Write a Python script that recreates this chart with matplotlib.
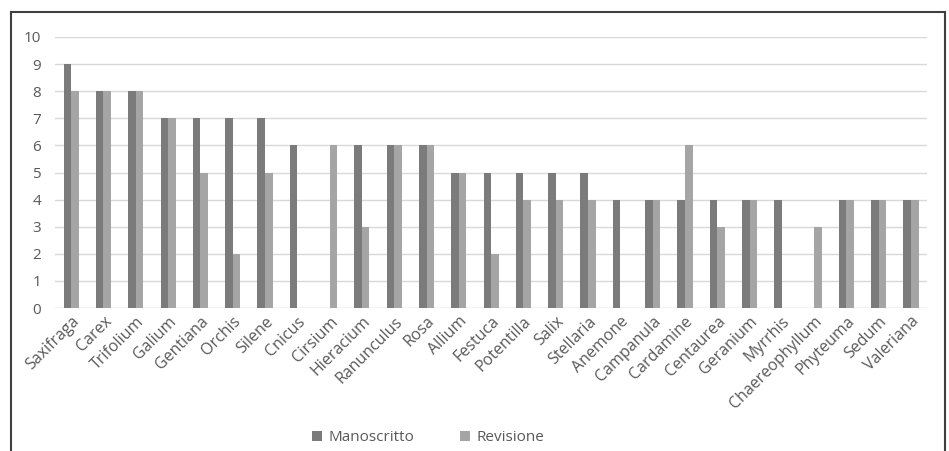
import numpy as np
import matplotlib
matplotlib.use("Agg")
import matplotlib.pyplot as plt
from matplotlib.lines import Line2D

# ── data
generi = [
    "Saxifraga", "Carex", "Trifolium", "Galium", "Gentiana", "Orchis", "Silene",
    "Cnicus", "Cirsium", "Hieracium", "Ranunculus", "Rosa", "Allium", "Festuca",
    "Potentilla", "Salix", "Stellaria", "Anemone", "Campanula", "Cardamine",
    "Centaurea", "Geranium", "Myrrhis", "Chaereophyllum", "Phyteuma", "Sedum",
    "Valeriana",
]
manoscritto = [9, 8, 8, 7, 7, 7, 7, 6, 0, 6, 6, 6, 5, 5, 5, 5, 5, 4, 4, 4, 4, 4, 4, 0, 4, 4, 4]
revisione   = [8, 8, 8, 7, 5, 2, 5, 0, 6, 3, 6, 6, 5, 2, 4, 4, 4, 0, 4, 6, 3, 4, 0, 3, 4, 4, 4]
y_ticks = list(range(0, 11))

plt.rcParams["font.family"] = ["Open Sans", "DejaVu Sans"]

fig = plt.figure(figsize=(9.49, 4.51), dpi=100)
ax = fig.add_axes([0.058, 0.317, 0.919, 0.601])

x = np.arange(len(generi))
w = 0.235
ax.bar(x - w / 2, manoscritto, width=w, color="#7b7b7b", label="Manoscritto", zorder=3)
ax.bar(x + w / 2, revisione, width=w, color="#a5a5a5", label="Revisione", zorder=3)

ax.set_xlim(-0.5, len(generi) - 0.5)
ax.set_ylim(0, 10)
ax.set_yticks(y_ticks)
ax.yaxis.grid(True, color="#d9d9d9", linewidth=1, zorder=0)
for s in ax.spines.values():
    s.set_visible(False)
ax.axhline(0, color="#d9d9d9", linewidth=1, zorder=2)
ax.tick_params(axis="both", length=0, colors="#595959")
ax.tick_params(axis="y", pad=10, labelsize=11)
ax.tick_params(axis="x", pad=4, labelsize=11.5)
ax.set_xticks(x)
ax.set_xticklabels(generi, rotation=45, ha="right", rotation_mode="anchor")

# legend at the bottom
ax.legend(loc="lower center", bbox_to_anchor=(0.428, -0.545), ncol=2, frameon=False,
          fontsize=11, handlelength=0.65, handleheight=0.65, columnspacing=3.0,
          handletextpad=0.4, labelcolor="#595959", borderpad=0.2)

# outer frame (bottom edge cut off)
frame_kw = dict(color="#404040", linewidth=1.5, transform=fig.transFigure)
l, r, t = 11 / 949, 945 / 949, 1 - 12 / 451
fig.add_artist(Line2D([l, r], [t, t], **frame_kw))
fig.add_artist(Line2D([l, l], [0, t], **frame_kw))
fig.add_artist(Line2D([r, r], [0, t], **frame_kw))

fig.savefig("out.png", dpi=100)
